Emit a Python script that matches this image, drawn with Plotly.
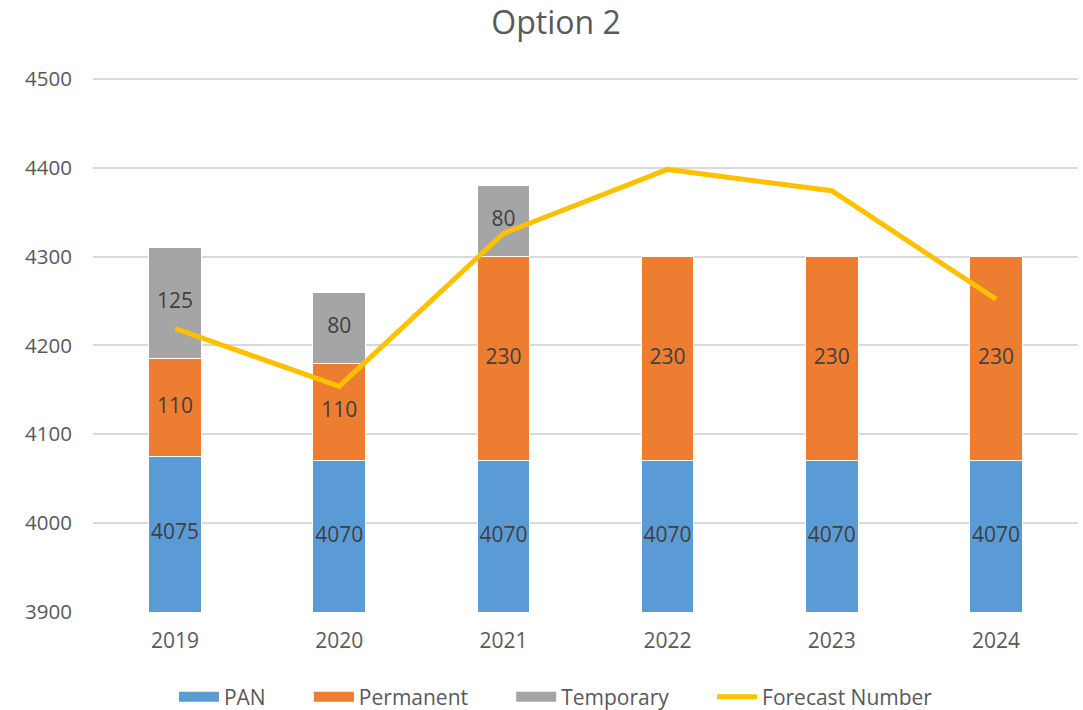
import plotly.graph_objects as go

years = ["2019", "2020", "2021", "2022", "2023", "2024"]
pan = [4075, 4070, 4070, 4070, 4070, 4070]
permanent = [110, 110, 230, 230, 230, 230]
temporary = [125, 80, 80, 0, 0, 0]
forecast = [4219, 4154, 4326, 4398, 4374, 4252]

y_min, y_max = 3900, 4500
FONT = "Open Sans"
label_font = dict(family=FONT, size=21, color="#404040")
colors = {"PAN": "#5B9BD5", "Permanent": "#ED7D31", "Temporary": "#A5A5A5"}
PAD = "\u00a0" * 7

fig = go.Figure()
for name, vals in (("PAN", pan), ("Permanent", permanent), ("Temporary", temporary)):
    fig.add_bar(x=years, y=vals, name=name, showlegend=False, legendgroup=name,
                marker=dict(color=colors[name], line=dict(color="white", width=1)))
fig.add_scatter(x=years, y=forecast, name="Forecast Number", mode="lines",
                line=dict(color="#FFC000", width=5), showlegend=False, legendgroup="fc")

# data labels, centred in the visible part of each segment
pan_mid = [(y_min + p) / 2 for p in pan]
perm_mid = [p + q / 2 for p, q in zip(pan, permanent)]
temp_mid = [p + q + t / 2 for p, q, t in zip(pan, permanent, temporary)]
for mids, vals in ((pan_mid, pan), (perm_mid, permanent), (temp_mid, temporary)):
    fig.add_scatter(x=years, y=mids, mode="text", text=[str(v) if v else "" for v in vals],
                    textfont=label_font, showlegend=False, hoverinfo="skip")

# legend entries (wide swatches like the original)
for name in ("PAN", "Permanent", "Temporary"):
    fig.add_scatter(x=[None], y=[None], mode="lines", name=name + PAD, legendgroup=name,
                    line=dict(color=colors[name], width=14))
fig.add_scatter(x=[None], y=[None], mode="lines", name="Forecast Number", legendgroup="fc",
                line=dict(color="#FFC000", width=5))

W, H = 1083, 710
fig.update_layout(
    barmode="stack", bargap=0.68,
    width=W, height=H,
    margin=dict(l=93, r=5, t=77, b=98, autoexpand=False),
    paper_bgcolor="white", plot_bgcolor="white",
    font=dict(family=FONT, color="#595959", size=20),
    title=dict(text="Option 2", x=556 / W, xanchor="center", y=1 - 23 / H, yanchor="middle",
               font=dict(family=FONT, size=32, color="#595959")),
    legend=dict(orientation="h", x=0.47, xanchor="center", y=-0.159, yanchor="middle",
                font=dict(family=FONT, size=21, color="#595959"), traceorder="normal",
                itemwidth=40),
    showlegend=True,
)
fig.update_xaxes(showgrid=False, showline=False, ticks="", ticklabelstandoff=14,
                 tickfont=dict(size=21, color="#595959"))
fig.update_yaxes(range=[y_min, y_max + 2], tickvals=list(range(y_min, y_max + 1, 100)),
                 gridcolor="#D9D9D9", gridwidth=1.5,
                 zeroline=False, showline=False, ticks="", ticklabelstandoff=20,
                 tickfont=dict(size=20.5, color="#595959"))

fig.write_html("out.html", config={"displayModeBar": False},
               post_script="document.body.style.margin='0';")
